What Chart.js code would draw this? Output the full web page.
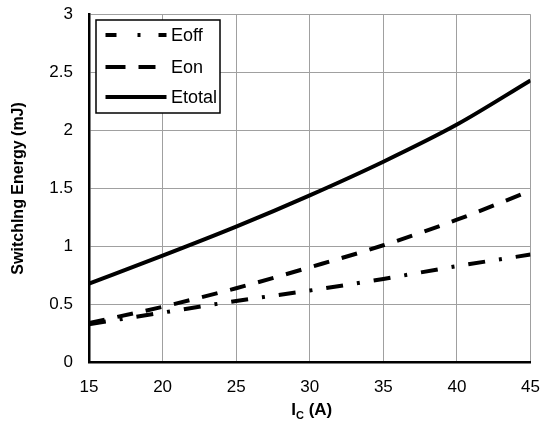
<!DOCTYPE html>
<html>
<head>
<meta charset="utf-8">
<script src="https://cdn.jsdelivr.net/npm/chart.js@4.4.1/dist/chart.umd.min.js"></script>
<style>
  html, body { margin: 0; padding: 0; background: #fff; }
  #wrap { width: 541px; height: 423px; }
</style>
</head>
<body>
<div id="wrap"><canvas id="graph"></canvas></div>
<script>
// collector current (A)
var icX = [15, 20, 25, 30, 35, 40, 45];
// switching energies (mJ)
var eoffY = [0.33, 0.43, 0.53, 0.62, 0.72, 0.83, 0.93];
var eonY = [0.34, 0.48, 0.64, 0.82, 1.01, 1.23, 1.48];
var etotalY = [0.68, 0.92, 1.17, 1.44, 1.73, 2.05, 2.43];
var xTicks = [15, 20, 25, 30, 35, 40, 45];
var yTicks = [0, 0.5, 1, 1.5, 2, 2.5, 3];

function pts(ys) {
  return icX.map(function (x, i) { return { x: x, y: ys[i] }; });
}

var FONT = "'Liberation Sans', Arial, sans-serif";

// legend box inside the plot, like the datasheet
const boxLegend = {
  id: 'boxLegend',
  afterDraw: function (chart) {
    var ctx = chart.ctx;
    ctx.save();
    ctx.fillStyle = '#fff';
    ctx.fillRect(96, 20, 124, 93);
    ctx.lineWidth = 1.5;
    ctx.strokeStyle = '#000';
    ctx.strokeRect(96, 20, 124, 93);
    var items = [
      { text: 'Eoff', dash: [11, 21, 3, 18, 11], y: 35 },
      { text: 'Eon', dash: [20, 13, 17], y: 67 },
      { text: 'Etotal', dash: [], y: 97 }
    ];
    items.forEach(function (it) {
      ctx.beginPath();
      ctx.setLineDash(it.dash);
      ctx.lineWidth = 4;
      ctx.lineCap = 'butt';
      ctx.moveTo(105.5, it.y);
      ctx.lineTo(166.5, it.y);
      ctx.stroke();
      ctx.setLineDash([]);
      ctx.fillStyle = '#000';
      ctx.font = '18px ' + FONT;
      ctx.textBaseline = 'middle';
      ctx.textAlign = 'left';
      ctx.fillText(it.text, 171, it.y + 1);
    });
    ctx.restore();
  }
};

// x title with subscript C
const xTitle = {
  id: 'xTitle',
  afterDraw: function (chart) {
    var ctx = chart.ctx;
    var a = chart.chartArea;
    var cx = (a.left + a.right) / 2 + 2;
    ctx.save();
    ctx.fillStyle = '#000';
    ctx.textBaseline = 'alphabetic';
    ctx.textAlign = 'left';
    var big = 'bold 17px ' + FONT, small = 'bold 11px ' + FONT;
    ctx.font = big;
    var w1 = ctx.measureText('I').width;
    var w3 = ctx.measureText(' (A)').width;
    ctx.font = small;
    var w2 = ctx.measureText('C').width;
    var x = cx - (w1 + w2 + w3) / 2;
    var base = 415;
    ctx.font = big;
    ctx.fillText('I', x, base);
    ctx.font = small;
    ctx.fillText('C', x + w1, base + 4);
    ctx.font = big;
    ctx.fillText(' (A)', x + w1 + w2, base);
    ctx.restore();
  }
};

const config = {
  type: 'line',
  data: {
    datasets: [
      {
        label: 'Eoff',
        data: pts(eoffY),
        borderColor: '#000',
        borderWidth: 4,
        borderDash: [17, 14, 3, 14],
        pointRadius: 0,
        tension: 0.4,
        cubicInterpolationMode: 'monotone',
        fill: false
      },
      {
        label: 'Eon',
        data: pts(eonY),
        borderColor: '#000',
        borderWidth: 4,
        borderDash: [16, 13],
        pointRadius: 0,
        tension: 0.4,
        cubicInterpolationMode: 'monotone',
        fill: false
      },
      {
        label: 'Etotal',
        data: pts(etotalY),
        borderColor: '#000',
        borderWidth: 4,
        pointRadius: 0,
        tension: 0.4,
        cubicInterpolationMode: 'monotone',
        fill: false
      }
    ]
  },
  options: {
    responsive: false,
    animation: false,
    devicePixelRatio: 1,
    layout: { padding: { left: 0, right: 10.5, top: 14.3, bottom: 0 } },
    plugins: {
      legend: { display: false },
      tooltip: { enabled: false }
    },
    scales: {
      x: {
        type: 'linear',
        min: 15,
        max: 45,
        afterFit: function (s) {
          s.height = 60.5;
          s.paddingLeft = 0; s.paddingRight = 0;
        },
        afterBuildTicks: function (s) { s.ticks = xTicks.map(function (v) { return { value: v }; }); },
        grid: { color: '#a0a0a0', lineWidth: 1, drawTicks: false },
        border: { color: '#000', width: 2.5 },
        ticks: { color: '#000', padding: 15, font: { family: FONT, size: 17 }, maxRotation: 0,
          callback: function (v) { return String(v); } }
      },
      y: {
        type: 'linear',
        min: 0,
        max: 3,
        afterFit: function (s) {
          s.width = 89;
          s.paddingTop = 0; s.paddingBottom = 0;
        },
        afterBuildTicks: function (s) { s.ticks = yTicks.map(function (v) { return { value: v }; }); },
        grid: { color: '#a0a0a0', lineWidth: 1, drawTicks: false },
        border: { color: '#000', width: 2.5 },
        ticks: { color: '#000', padding: 16, font: { family: FONT, size: 17 },
          callback: function (v) { return String(v); } },
        title: {
          display: true,
          text: 'Switchlng Energy (mJ)',
          color: '#000',
          font: { family: FONT, size: 16, weight: 'bold' },
          padding: { top: 9, bottom: 0 }
        }
      }
    }
  },
  plugins: [boxLegend, xTitle]
};

var canvas = document.getElementById('graph');
canvas.width = 541;
canvas.height = 423;
var myChart = new Chart(canvas, config);
</script>
</body>
</html>
